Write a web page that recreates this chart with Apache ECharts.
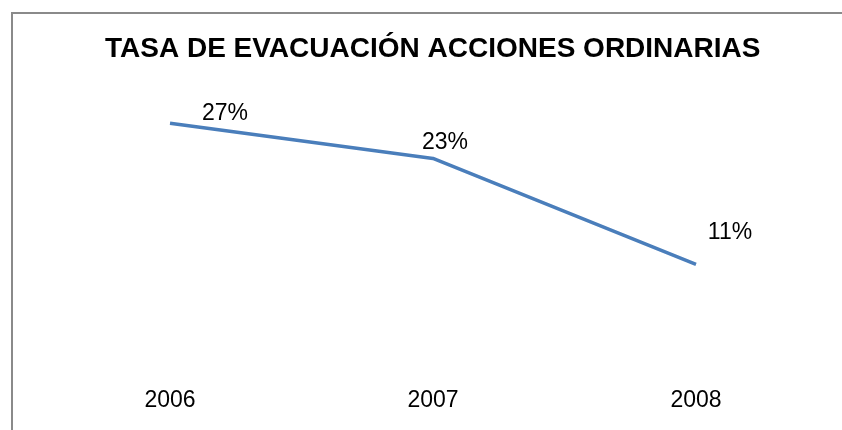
<!DOCTYPE html>
<html>
<head>
<meta charset="utf-8">
<script src="https://cdn.jsdelivr.net/npm/echarts@6/dist/echarts.min.js"></script>
<style>
  html, body { margin: 0; padding: 0; background: #fff; }
  #chart { width: 842px; height: 430px; }
</style>
</head>
<body>
<div id="chart"></div>
<script>
// Evacuation rate for ordinary actions, per year (percent)
const years = ['2006', '2007', '2008'];
const rates = [27, 23, 11];

// Where each value label sits relative to its point
const labelOffsets = [[55, -10], [12, -16], [34, -32]];

const chart = echarts.init(document.getElementById('chart'));
const font = '"Liberation Sans", Arial, sans-serif';

chart.setOption({
  animation: false,
  backgroundColor: '#fff',
  title: {
    text: 'TASA DE EVACUACIÓN ACCIONES ORDINARIAS',
    left: 100,
    top: 30,
    textStyle: { fontFamily: font, fontSize: 28, fontWeight: 'bold', color: '#000' }
  },
  graphic: [{
    type: 'rect',
    shape: { x: 12, y: 13, width: 900, height: 500 },
    style: { fill: 'none', stroke: '#8a8a8a', lineWidth: 2 },
    silent: true
  }],
  grid: { left: 38.5, right: 14.5, top: 96.7, height: 264.8 },
  xAxis: {
    type: 'category',
    data: years,
    boundaryGap: true,
    axisLine: { show: false },
    axisTick: { show: false },
    axisLabel: { margin: 28, fontFamily: font, fontSize: 23, color: '#000' }
  },
  yAxis: {
    type: 'value',
    min: 0,
    max: 30,
    show: false,
    splitLine: { show: false }
  },
  series: [{
    type: 'line',
    data: rates.map((v, i) => ({
      value: v,
      label: { offset: labelOffsets[i] }
    })),
    symbol: 'circle',
    symbolSize: 0.1,
    itemStyle: { color: '#4a7ebb' },
    lineStyle: { color: '#4a7ebb', width: 3.5 },
    label: {
      show: true,
      position: 'inside',
      formatter: p => p.value + '%',
      fontFamily: font,
      fontSize: 23,
      color: '#000'
    }
  }]
});
</script>
</body>
</html>
